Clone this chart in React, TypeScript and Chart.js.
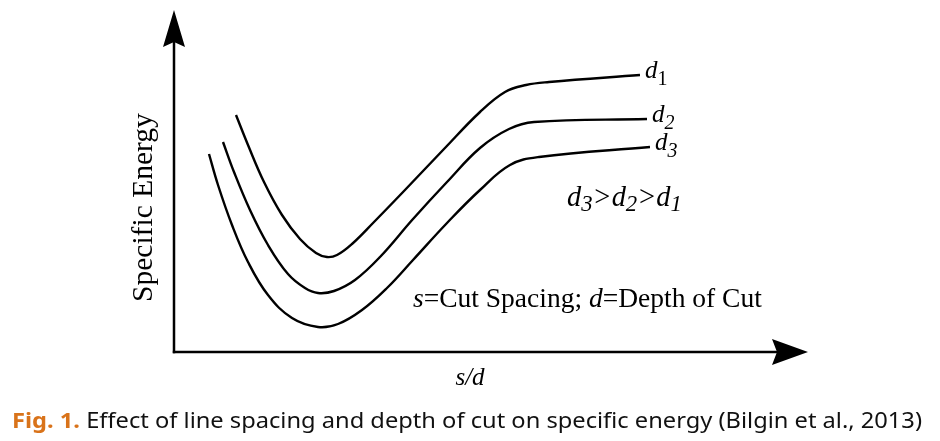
import React, { useEffect, useRef } from "react";
import { Chart, registerables } from "chart.js";

Chart.register(...registerables);

// Schematic units: s/d (x) and specific energy (y), arbitrary scale
const X_MAX = 634;
const Y_MAX = 342;

const seriesLabels = ["1", "2", "3"];

const d1X = [62, 74, 90, 108, 126, 142, 153, 163, 178, 200, 230, 270, 306, 331, 352, 375, 466];
const d1Y = [237, 207, 170, 137, 113, 99, 95, 97, 108, 130, 161, 203, 240, 260, 267, 270, 277];

const d2X = [49, 60, 76, 94, 114, 131, 144, 160, 181, 206, 239, 273, 306, 335, 360, 473];
const d2Y = [210, 180, 142, 107, 78, 64, 59, 61, 72, 95, 133, 170, 204, 223, 230, 233];

const d3X = [35, 44, 58, 74, 94, 118, 144, 164, 188, 213, 239, 273, 306, 336, 365, 476];
const d3Y = [198, 167, 127, 90, 57, 34, 25, 28, 42, 64, 92, 129, 162, 187, 195, 205];

const yTitle = "Specific Energy";
const captionLead = "Fig. 1.";
const captionText = " Effect of line spacing and depth of cut on specific energy (Bilgin et al., 2013)";

type Run = { t: string; italic?: boolean; sub?: boolean; bold?: boolean; color?: string };

const SERIF = '"Liberation Serif", "Times New Roman", serif';
const SANS = '"Noto Sans", "Open Sans", sans-serif';

function runFont(r: Run, size: number, family: string) {
  const s = r.sub ? size * 0.8 : size;
  return `${r.italic ? "italic " : ""}${r.bold ? "bold " : ""}${s}px ${family}`;
}

function measureRuns(ctx: CanvasRenderingContext2D, runs: Run[], size: number, family: string) {
  let w = 0;
  for (const r of runs) {
    ctx.font = runFont(r, size, family);
    w += ctx.measureText(r.t).width;
  }
  return w;
}

function drawRuns(ctx: CanvasRenderingContext2D, runs: Run[], x: number, y: number, size: number, family: string, subDrop = 0.25) {
  let cx = x;
  for (const r of runs) {
    ctx.font = runFont(r, size, family);
    ctx.fillStyle = r.color || "#000";
    ctx.fillText(r.t, cx, y + (r.sub ? size * subDrop : 0));
    cx += ctx.measureText(r.t).width;
  }
}

function fitSize(ctx: CanvasRenderingContext2D, runs: Run[], target: number, family: string) {
  const w = measureRuns(ctx, runs, 100, family);
  return (100 * target) / w;
}

const annotations = {
  id: "annotations",
  afterDraw(chart: any) {
    const ctx: CanvasRenderingContext2D = chart.ctx;
    const xs = chart.scales.x;
    const ys = chart.scales.y;
    const x0 = xs.getPixelForValue(0);
    const y0 = ys.getPixelForValue(0);
    const xEnd = xs.getPixelForValue(X_MAX);
    const yEnd = ys.getPixelForValue(Y_MAX);
    ctx.save();
    ctx.textBaseline = "alphabetic";
    ctx.strokeStyle = "#000";
    ctx.fillStyle = "#000";
    ctx.lineWidth = 2.5;
    // axes lines
    ctx.beginPath();
    ctx.moveTo(x0, y0 + 1.2);
    ctx.lineTo(x0, yEnd + 30);
    ctx.stroke();
    ctx.beginPath();
    ctx.moveTo(x0 - 1.2, y0);
    ctx.lineTo(xEnd - 30, y0);
    ctx.stroke();
    // arrowheads
    ctx.beginPath();
    ctx.moveTo(x0, yEnd);
    ctx.lineTo(x0 - 11, yEnd + 37);
    ctx.lineTo(x0, yEnd + 32);
    ctx.lineTo(x0 + 11, yEnd + 37);
    ctx.closePath();
    ctx.fill();
    ctx.beginPath();
    ctx.moveTo(xEnd, y0);
    ctx.lineTo(xEnd - 36, y0 - 13);
    ctx.lineTo(xEnd - 31, y0);
    ctx.lineTo(xEnd - 36, y0 + 13);
    ctx.closePath();
    ctx.fill();

    // y axis title
    ctx.save();
    ctx.translate(152, 302);
    ctx.rotate(-Math.PI / 2);
    const yRuns: Run[] = [{ t: yTitle }];
    const ySize = fitSize(ctx, yRuns, 189, SERIF);
    drawRuns(ctx, yRuns, 0, 0, ySize, SERIF);
    ctx.restore();

    // x axis title
    const xRuns: Run[] = [{ t: "s", italic: true }, { t: "/", italic: true }, { t: "d", italic: true }];
    const xSize = 25;
    const xw = measureRuns(ctx, xRuns, xSize, SERIF);
    drawRuns(ctx, xRuns, 470 - xw / 2, 385, xSize, SERIF);

    // series labels at line ends
    const ends = [
      { x: d1X[d1X.length - 1], y: d1Y[d1Y.length - 1], n: seriesLabels[0] },
      { x: d2X[d2X.length - 1], y: d2Y[d2Y.length - 1], n: seriesLabels[1] },
      { x: d3X[d3X.length - 1], y: d3Y[d3Y.length - 1], n: seriesLabels[2] },
    ];
    for (const e of ends) {
      const px = xs.getPixelForValue(e.x) + 5;
      const py = ys.getPixelForValue(e.y) + 3;
      drawRuns(ctx, [{ t: "d", italic: true }, { t: e.n, italic: e.n !== "1", sub: true }], px, py, 25, SERIF, 0.28);
    }

    // relation text
    const relRuns: Run[] = [
      { t: "d", italic: true },
      { t: "3", italic: true, sub: true },
      { t: ">", italic: true },
      { t: "d", italic: true },
      { t: "2", italic: true, sub: true },
      { t: ">", italic: true },
      { t: "d", italic: true },
      { t: "1", italic: true, sub: true },
    ];
    const relSize = fitSize(ctx, relRuns, 115, SERIF);
    drawRuns(ctx, relRuns, 567, 206, relSize, SERIF, 0.18);

    // definition text
    const defRuns: Run[] = [
      { t: "s", italic: true },
      { t: "=Cut Spacing; " },
      { t: "d", italic: true },
      { t: "=Depth of Cut" },
    ];
    const defSize = fitSize(ctx, defRuns, 349, SERIF);
    drawRuns(ctx, defRuns, 413, 307, defSize, SERIF);

    // caption
    const capRuns: Run[] = [
      { t: captionLead, bold: true, color: "#D9731A" },
      { t: captionText, color: "#111" },
    ];
    const capSize = 21.5;
    const cw = measureRuns(ctx, capRuns, capSize, SANS);
    ctx.save();
    ctx.translate(12, 428);
    ctx.scale(910 / cw, 1);
    drawRuns(ctx, capRuns, 0, 0, capSize, SANS);
    ctx.restore();

    ctx.restore();
  },
};

function toPoints(xs: number[], ys: number[]) {
  return xs.map((x, i) => ({ x, y: ys[i] }));
}

export default function App() {
  const ref = useRef<HTMLCanvasElement | null>(null);
  useEffect(() => {
    if (!ref.current) return;
    const common = {
      borderColor: "#000",
      backgroundColor: "#000",
      borderWidth: 2.4,
      pointRadius: 0,
      fill: false,
      tension: 0.4,
    };
    const chart = new Chart(ref.current, {
      type: "line",
      data: {
        datasets: [
          { label: "d1", data: toPoints(d1X, d1Y), ...common },
          { label: "d2", data: toPoints(d2X, d2Y), ...common },
          { label: "d3", data: toPoints(d3X, d3Y), ...common },
        ],
      },
      options: {
        responsive: false,
        animation: false,
        devicePixelRatio: 1,
        layout: { padding: { left: 174, right: 132, top: 10, bottom: 89 } },
        scales: {
          x: { type: "linear", min: 0, max: X_MAX, display: false },
          y: { type: "linear", min: 0, max: Y_MAX, display: false },
        },
        plugins: { legend: { display: false }, tooltip: { enabled: false } },
      },
      plugins: [annotations],
    });
    return () => chart.destroy();
  }, []);
  return (
    <div style={{ position: "fixed", left: 0, top: 0, width: 940, height: 441, background: "#fff" }}>
      <canvas ref={ref} width={940} height={441} style={{ width: 940, height: 441, display: "block" }} />
    </div>
  );
}
